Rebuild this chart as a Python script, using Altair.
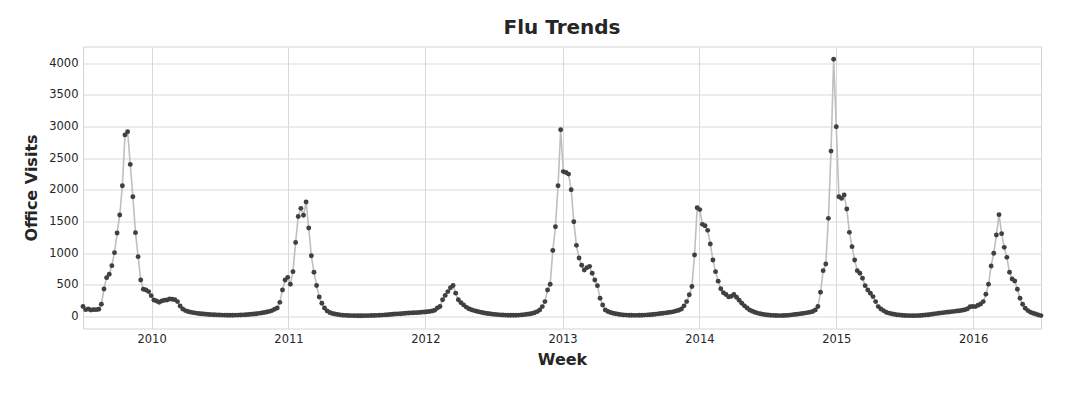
import altair as alt
import pandas as pd

# Weekly flu office visits, one value per week
season_2009 = [160, 110, 120, 105, 110, 110, 115,
               195, 437, 615, 668, 805, 1010, 1320, 1604, 2067, 2870,
               2920, 2404, 1894, 1326, 947, 579, 431, 421, 395, 331,
               263, 247, 226, 247, 258, 263, 279, 274, 268, 237,
               168, 121, 95,
               80, 70, 62, 55, 50, 45, 41, 37, 34, 31, 29, 27,
               25, 24, 23, 22, 22, 22, 23, 24, 26, 28,
               30, 33, 37, 41, 46, 51, 57, 64, 72, 82, 95, 115, 135]
season_2010 = [225, 421, 579, 620, 510, 710, 1170, 1580, 1710, 1600, 1810, 1400,
               960, 700, 490, 310, 210, 135, 90,
               65, 50, 40, 32, 27, 22, 20, 18,
               16, 15, 15, 14, 14, 15, 15, 16, 17, 18, 20, 22,
               24, 27, 30, 33, 36, 40, 43, 46, 50, 53, 56, 58, 60, 62, 65, 68,
               72, 76, 80, 88, 100,
               135, 160, 265, 335, 395, 455, 490, 370, 265, 220, 185]
season_2012 = [150, 125, 108, 95, 84, 74, 65, 57, 50, 44,
               39, 35, 31, 28, 25, 23, 22, 21, 21, 22,
               24, 27, 31, 36, 42, 50, 60, 78,
               105, 158, 237, 421, 510, 1044, 1420, 2067, 2950, 2290,
               2277, 2251, 2004, 1499, 1125, 926, 810, 736, 773, 794,
               684, 579, 489, 289, 184, 105,
               80, 65, 53, 44, 37, 31, 27, 24, 22, 21,
               20, 20, 21, 22, 24, 27, 30, 34, 38, 43,
               48, 53, 58, 64, 70, 78]
season_2013 = [90, 100, 120, 170, 237, 345, 475, 973, 1720, 1690,
               1457, 1436, 1362, 1147, 894, 710, 560, 440, 376, 349,
               311, 322, 349, 306, 258, 210, 170, 135, 105, 85,
               68, 55, 45, 37, 30, 25, 21, 19, 17, 16,
               16, 17, 19, 23, 28, 33, 38, 43, 48, 55,
               62, 70, 80]
season_2014 = [105, 160, 384, 726, 831, 1552, 2614, 4064, 2998, 1894,
               1867, 1920, 1699, 1331, 1105, 894, 726, 684, 605, 489,
               421, 368, 316, 237, 158, 121, 95, 68,
               55, 45, 37, 30, 25, 21, 18, 16, 15, 15,
               15, 16, 18, 21, 25, 30, 35, 40, 47, 53,
               58, 63, 68, 73, 78, 83, 88, 93, 100, 108,
               125, 155]
season_2015 = [160, 158, 180, 200, 237, 352, 510, 800, 1000, 1289,
               1610, 1310, 1094, 936, 700, 594, 563, 431, 289, 195,
               132, 95, 68, 53, 40, 26, 16]

visits = season_2009 + season_2010 + season_2012 + season_2013 + season_2014 + season_2015
assert len(visits) == 366, len(visits)

weeks = pd.date_range("2009-07-02", periods=len(visits), freq="7D")
df = pd.DataFrame({"Week": weeks, "FluVisits": visits})

years = [2010, 2011, 2012, 2013, 2014, 2015, 2016]
y_ticks = [0, 500, 1000, 1500, 2000, 2500, 3000, 3500, 4000]

FONT = "DejaVu Sans"
TEXT = "#262626"

x_enc = alt.X("Week:T",
              scale=alt.Scale(nice=False),
              axis=alt.Axis(title="Week",
                            values=[alt.DateTime(year=y, month=1, date=1) for y in years],
                            format="%Y", labelPadding=5, titlePadding=6))
y_enc = alt.Y("FluVisits:Q",
              scale=alt.Scale(domain=[-188, 4266], nice=False, zero=False),
              axis=alt.Axis(title="Office Visits", values=y_ticks, format="d",
                            labelPadding=5, titlePadding=9))

base = alt.Chart(df).encode(x=x_enc, y=y_enc)
line = base.mark_line(color="#bfbfbf", strokeWidth=1.6)
points = base.mark_circle(color="#404040", size=24, opacity=1)

chart = (line + points).properties(
    width=958, height=282,
    title=alt.Title("Flu Trends", fontSize=20, fontWeight="bold", font=FONT,
                    color=TEXT, anchor="middle", offset=9),
    autosize=alt.AutoSizeParams(type="none"),
    padding={"left": 75, "top": 38.5, "right": 33, "bottom": 50},
).configure_view(
    stroke="#d4d4d4", strokeWidth=1
).configure_axis(
    grid=True, gridColor="#d9d9d9", gridWidth=1,
    domain=False, ticks=False,
    labelFont=FONT, labelFontSize=11.5, labelColor=TEXT,
    titleFont=FONT, titleFontSize=16, titleFontWeight="bold", titleColor=TEXT,
)

chart.save("out.html", embed_options={"renderer": "svg", "actions": False})
